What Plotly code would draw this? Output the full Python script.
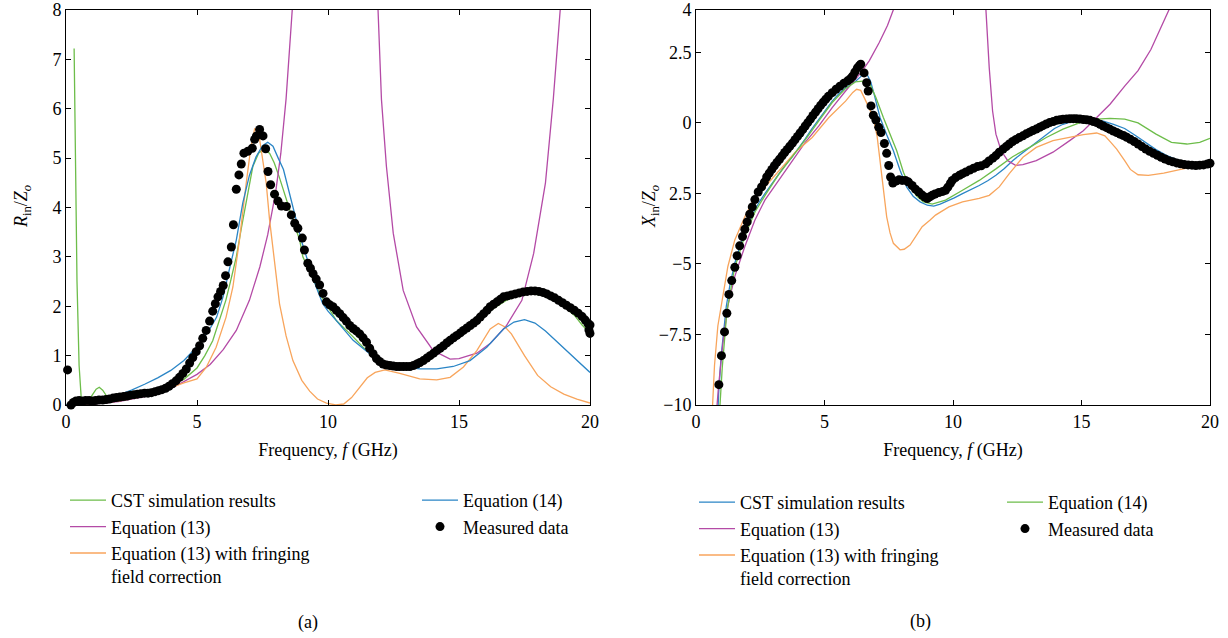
import plotly.graph_objects as go

# ---------------- Panel (a): R_in / Z_o ----------------
a_cst_f = [0.31, 0.36, 0.42, 0.5, 0.58, 0.7, 0.85, 1.0, 1.15, 1.27, 1.4, 1.55, 1.7, 2.0, 2.5, 3.0, 3.5, 4.0,
           4.5, 5.0, 5.3, 5.6, 5.85, 6.1, 6.3, 6.5, 6.7, 6.88, 7.13, 7.35, 7.52, 7.77, 7.95, 8.15, 8.35, 8.54,
           8.75, 8.92, 9.04, 9.68, 10.32, 10.96, 11.34, 11.85, 12.3, 12.8, 13.3, 13.8, 14.3, 14.8, 15.3, 15.8,
           16.3, 16.8, 17.3, 17.8, 18.2, 18.6, 19.0, 19.4, 19.7, 20.0]
a_cst_r = [7.22, 5.0, 2.5, 0.8, 0.15, 0.05, 0.08, 0.2, 0.32, 0.36, 0.3, 0.18, 0.14, 0.15, 0.2, 0.25, 0.32, 0.42,
           0.52, 0.75, 1.0, 1.3, 1.7, 2.12, 2.55, 3.0, 3.6, 4.09, 4.83, 5.1, 5.17, 5.1, 4.9, 4.6, 4.25, 3.95,
           3.6, 3.34, 3.0, 2.26, 1.71, 1.38, 1.17, 0.93, 0.83, 0.78, 0.8, 0.9, 1.1, 1.3, 1.52, 1.72,
           1.95, 2.12, 2.22, 2.25, 2.22, 2.12, 2.0, 1.82, 1.62, 1.45]

a_eq13_f = [0.0, 1.0, 2.0, 3.0, 4.0, 4.8, 5.0, 5.5, 6.0, 6.5, 7.0, 7.4, 7.7, 8.0, 8.2, 8.4, 8.55, 8.7,
            None, 11.85, 11.91, 12.04, 12.23, 12.49, 12.87, 13.38, 14.02, 14.66, 15.0, 15.68, 16.2, 16.8,
            17.4, 17.85, 18.3, 18.6, 18.87, 18.95]
a_eq13_r = [0.0, 0.02, 0.07, 0.17, 0.33, 0.57, 0.62, 0.82, 1.12, 1.51, 2.12, 2.8, 3.45, 4.3, 5.1, 6.2, 7.2, 8.5,
            None, 8.6, 8.0, 6.19, 4.83, 3.48, 2.32, 1.58, 1.1, 0.93, 0.94, 1.05, 1.25, 1.6,
            2.12, 3.07, 4.5, 6.2, 8.0, 8.6]

a_fr_f = [0.0, 1.0, 2.0, 3.0, 4.0, 4.5, 5.0, 5.35, 5.73, 6.11, 6.37, 6.62, 6.88, 7.05, 7.2, 7.3, 7.39, 7.52,
          7.64, 7.77, 7.9, 8.15, 8.4, 8.66, 9.0, 9.3, 9.6, 9.94, 10.3, 10.6, 10.9, 11.2, 11.5, 11.8, 12.17,
          12.74, 13.5, 14.15, 14.66, 15.17, 15.68, 16.19, 16.5, 16.76, 17.0, 17.5, 18.0, 18.5, 19.0, 19.5, 20.0]
a_fr_r = [0.0, 0.03, 0.08, 0.18, 0.35, 0.45, 0.53, 0.76, 1.17, 1.78, 2.39, 3.34, 4.5, 5.2, 5.59, 5.55, 5.38, 4.95,
          4.5, 3.75, 3.14, 2.05, 1.4, 0.9, 0.5, 0.28, 0.12, 0.04, 0.0, 0.02, 0.15, 0.36, 0.55, 0.66, 0.71,
          0.64, 0.53, 0.51, 0.56, 0.77, 1.1, 1.54, 1.65, 1.58, 1.44, 1.0, 0.6, 0.37, 0.22, 0.12, 0.04]

a_eq14_f = [0.0, 0.5, 1.0, 1.5, 2.0, 2.5, 3.0, 3.5, 4.0, 4.5, 5.0, 5.5, 5.75, 6.0, 6.25, 6.5, 6.75, 7.0, 7.25,
            7.5, 7.7, 7.9, 8.1, 8.3, 8.5, 8.7, 9.0, 9.3, 9.55, 9.8, 10.0, 10.32, 10.96, 11.59, 12.23, 12.87,
            13.5, 14.15, 14.78, 15.42, 16.06, 16.7, 17.1, 17.5, 17.9, 18.3, 18.7, 19.1, 19.5, 20.0]
a_eq14_r = [0.0, 0.02, 0.06, 0.12, 0.2, 0.3, 0.42, 0.55, 0.7, 0.9, 1.18, 1.55, 1.78, 2.2, 2.78, 3.34, 4.1, 4.65, 5.02,
            5.25, 5.32, 5.24, 5.0, 4.77, 4.35, 3.95, 3.3, 2.8, 2.39, 2.05, 1.9, 1.71, 1.31, 1.04, 0.83, 0.77,
            0.73, 0.73, 0.78, 0.9, 1.17, 1.54, 1.68, 1.73, 1.66, 1.5, 1.3, 1.1, 0.9, 0.66]

a_meas_f = [0.06, 0.19, 0.28, 0.38, 0.5, 0.62, 0.75, 0.88, 1.0, 1.13, 1.26, 1.4, 1.53, 1.66, 1.8, 1.93, 2.06,
            2.2, 2.33, 2.46, 2.6, 2.73, 2.86, 3.0, 3.13, 3.26, 3.4, 3.53, 3.66, 3.8, 3.93, 4.06, 4.2, 4.33,
            4.46, 4.59, 4.72, 4.84, 4.97, 5.1, 5.22, 5.35, 5.48, 5.6, 5.7, 5.8, 5.9, 6.0, 6.09, 6.18, 6.31,
            6.39, 6.5, 6.6, 6.69, 6.79, 6.94, 7.11, 7.2, 7.27, 7.39, 7.52, 7.62, 7.71, 7.81, 7.96, 8.09,
            8.22, 8.41, 8.6, 8.73, 8.85, 9.02, 9.1, 9.23, 9.33, 9.43, 9.55, 9.68, 9.81, 9.94, 10.06, 10.19,
            10.32, 10.45, 10.58, 10.7, 10.83, 10.96, 11.08, 11.21, 11.34, 11.47, 11.59, 11.72, 11.85, 11.97,
            12.1, 12.23, 12.36, 12.49, 12.62, 12.74, 12.87, 13.0, 13.13, 13.26, 13.39, 13.51, 13.64, 13.77,
            13.9, 14.03, 14.15, 14.28, 14.41, 14.54, 14.66, 14.79, 14.92, 15.05, 15.17, 15.3, 15.43, 15.56,
            15.68, 15.81, 15.94, 16.07, 16.19, 16.32, 16.45, 16.58, 16.7, 16.85, 17.0, 17.15, 17.3, 17.45,
            17.6, 17.75, 17.9, 18.05, 18.2, 18.35, 18.5, 18.65, 18.8, 18.95, 19.1, 19.25, 19.4, 19.55, 19.7,
            19.82, 19.92, 20.0, 19.96, 20.0]
a_meas_r = [0.71, 0.0, 0.05, 0.08, 0.09, 0.08, 0.09, 0.09, 0.08, 0.09, 0.1, 0.1, 0.11, 0.12, 0.14, 0.15, 0.16,
            0.17, 0.18, 0.2, 0.21, 0.22, 0.23, 0.24, 0.24, 0.25, 0.27, 0.29, 0.31, 0.34, 0.38, 0.43, 0.49, 0.56,
            0.64, 0.73, 0.85, 0.96, 1.08, 1.2, 1.35, 1.51, 1.7, 1.9, 2.05, 2.19, 2.3, 2.42, 2.62, 2.9, 3.2,
            3.65, 4.37, 4.66, 4.88, 5.1, 5.14, 5.2, 5.38, 5.45, 5.58, 5.45, 5.19, 4.73, 4.46, 4.27, 4.13,
            4.03, 4.02, 3.85, 3.68, 3.58, 3.38, 3.14, 2.87, 2.77, 2.66, 2.55, 2.43, 2.26, 2.09, 2.03, 1.99,
            1.92, 1.85, 1.77, 1.7, 1.61, 1.55, 1.5, 1.44, 1.36, 1.27, 1.15, 1.04, 0.94, 0.88,
            0.83, 0.81, 0.8, 0.79, 0.78, 0.78, 0.78, 0.78, 0.78, 0.8, 0.83, 0.86, 0.9, 0.95,
            1.0, 1.05, 1.1, 1.15, 1.2, 1.26, 1.31, 1.36, 1.41, 1.46, 1.51, 1.56, 1.61, 1.66,
            1.71, 1.78, 1.85, 1.92, 1.99, 2.04, 2.09, 2.14, 2.19, 2.21, 2.23, 2.25, 2.27, 2.29,
            2.3, 2.31, 2.31, 2.3, 2.28, 2.25, 2.21, 2.17, 2.12, 2.07, 2.02, 1.97, 1.92, 1.86, 1.79,
            1.72, 1.65, 1.62, 1.52, 1.45]

# ---------------- Panel (b): X_in / Z_o ----------------
b_cst_f = [0.84, 0.88, 0.98, 1.08, 1.18, 1.33, 1.51, 1.7, 1.9, 2.1, 2.29, 2.48, 2.68, 2.95, 3.21, 3.47, 3.73, 4.0,
           4.25, 4.5, 4.78, 5.05, 5.3, 5.55, 5.82, 6.02, 6.22, 6.4, 6.55, 6.64, 6.8, 6.95, 7.16, 7.42, 7.68,
           7.94, 8.2, 8.45, 8.72, 9.0, 9.25, 9.5, 9.71, 10.05, 10.37, 10.7, 11.02, 11.35, 11.67, 12.0, 12.32,
           12.65, 12.98, 13.3, 13.63, 13.95, 14.28, 14.55, 14.8, 15.05, 15.33, 15.6, 15.85, 16.25, 16.68,
           17.1, 17.5, 17.9, 18.3, 18.7, 19.1, 19.5, 19.8, 20.0]
b_cst_x = [-10.5, -9.6, -8.25, -7.3, -6.49, -5.7, -4.97, -4.4, -3.92, -3.48, -3.09, -2.78, -2.51, -2.15, -1.8, -1.5,
           -1.22, -0.9, -0.57, -0.22, 0.13, 0.47, 0.77, 1.02, 1.24, 1.36, 1.48, 1.63, 1.78, 1.75, 1.45, 0.95,
           0.19, -0.42, -0.99, -1.68, -2.28, -2.6, -2.8, -2.92, -2.95, -2.88, -2.8, -2.66, -2.51, -2.37, -2.22,
           -2.05, -1.86, -1.62, -1.34, -1.1, -0.87, -0.62, -0.4, -0.2, -0.05, 0.03, 0.07, 0.09, 0.09, 0.08,
           0.06, -0.05, -0.2, -0.45, -0.7, -0.95, -1.15, -1.3, -1.42, -1.48, -1.48, -1.47]

b_eq13_f = [0.8, 0.82, 0.88, 1.05, 1.24, 1.51, 1.9, 2.29, 2.68, 3.21, 3.73, 4.25, 4.78, 5.3, 5.82, 6.41, 6.74,
            7.13, 7.45, 7.7, 7.8, None, 11.25, 11.28, 11.41, 11.54, 11.67, 11.87, 12.13, 12.45, 12.72, 13.24,
            13.89, 14.54, 15.07, 15.59, 16.11, 16.68, 17.2, 17.7, 18.1, 18.45, 18.5]
b_eq13_x = [-10.5, -10.0, -9.3, -7.78, -6.49, -5.44, -4.38, -3.45, -2.74, -2.04, -1.34, -0.69, -0.11, 0.54, 1.13,
            1.77, 2.2, 2.85, 3.45, 4.05, 4.3, None, 4.5, 4.0, 1.95, 0.42, -0.4, -0.98, -1.34, -1.51, -1.48,
            -1.34, -1.04, -0.63, -0.28, 0.19, 0.66, 1.3, 1.85, 2.6, 3.4, 4.1, 4.3]

b_fr_f = [0.62, 0.66, 0.72, 0.85, 1.05, 1.24, 1.51, 1.9, 2.23, 2.68, 3.21, 3.86, 4.52, 5.17, 5.82, 6.1, 6.25,
          6.41, 6.61, 6.9, 7.05, 7.16, 7.3, 7.42, 7.55, 7.68, 7.94, 8.1, 8.33, 8.6, 8.8, 9.1, 9.32, 9.84,
          10.37, 11.02, 11.41, 11.8, 12.19, 12.72, 13.24, 13.89, 14.54, 15.07, 15.59, 15.91, 16.15, 16.37,
          16.68, 16.9, 17.2, 17.6, 18.2, 18.8, 19.4, 20.0]
b_fr_x = [-10.5, -9.9, -8.6, -7.2, -6.03, -5.09, -4.15, -3.33, -2.74, -2.27, -1.69, -1.04, -0.52, 0.19, 0.77,
          1.08, 1.19, 1.15, 0.77, 0.19, -0.5, -1.34, -2.4, -3.33, -3.9, -4.27, -4.5, -4.48, -4.33, -3.95,
          -3.68, -3.45, -3.27, -2.98, -2.8, -2.68, -2.57, -2.27, -1.8, -1.22, -0.87, -0.63, -0.52, -0.42,
          -0.36, -0.46, -0.7, -0.93, -1.34, -1.65, -1.84, -1.86, -1.78, -1.66, -1.54, -1.45]

b_eq14_f = [0.9, 0.95, 1.02, 1.2, 1.5, 1.9, 2.3, 2.7, 3.2, 3.7, 4.25, 4.8, 5.3, 5.8, 6.2, 6.5, 6.64, 6.8, 7.0,
            7.29, 7.55, 7.81, 8.07, 8.33, 8.6, 8.85, 9.19, 9.71, 10.37, 11.02, 11.67, 12.32, 12.98, 13.63,
            14.28, 15.07, 15.59, 16.11, 16.68, 17.2, 17.9, 18.5, 19.1, 19.6, 20.0]
b_eq14_x = [-10.5, -9.7, -8.7, -6.7, -5.15, -4.0, -3.15, -2.55, -1.85, -1.25, -0.6, 0.1, 0.72, 1.2, 1.45, 1.48,
            1.48, 1.3, 0.9, 0.19, -0.4, -0.99, -1.75, -2.28, -2.6, -2.8, -2.88, -2.74, -2.39, -2.04, -1.63,
            -1.2, -0.87, -0.52, -0.22, 0.05, 0.13, 0.16, 0.13, 0.0, -0.4, -0.69, -0.75, -0.69, -0.55]

b_meas_f = [0.89, 0.99, 1.11, 1.2, 1.28, 1.39, 1.51, 1.6, 1.7, 1.81, 1.9, 1.99, 2.09, 2.19, 2.29, 2.42, 2.55,
            2.66, 2.75, 2.85, 2.95, 3.05, 3.15, 3.25, 3.35, 3.45, 3.55, 3.65, 3.75, 3.85, 3.95, 4.05, 4.15,
            4.25, 4.35, 4.45, 4.55, 4.65, 4.75, 4.85, 4.95, 5.05, 5.15, 5.3, 5.45, 5.6, 5.75, 5.9, 6.0, 6.09,
            6.18, 6.28, 6.36, 6.41, 6.54, 6.64, 6.7, 6.81, 6.9, 7.0, 7.11, 7.2, 7.33, 7.42, 7.5, 7.57, 7.66,
            7.78, 7.9, 8.02, 8.15, 8.27, 8.41, 8.54, 8.67, 8.8, 8.9, 9.0, 9.1, 9.19, 9.3, 9.45, 9.6, 9.71,
            9.8, 9.9, 9.97, 10.1, 10.25, 10.37, 10.5, 10.65, 10.8, 10.95, 11.1, 11.28, 11.4, 11.55, 11.67,
            11.8, 11.95, 12.07, 12.19, 12.32, 12.45, 12.58, 12.72, 12.85, 12.98, 13.11, 13.24, 13.37, 13.5,
            13.63, 13.76, 13.9, 14.03, 14.16, 14.28, 14.42, 14.55, 14.68, 14.8, 14.94, 15.07, 15.2, 15.33,
            15.46, 15.59, 15.72, 15.85, 15.98, 16.11, 16.24, 16.37, 16.5, 16.63, 16.76, 16.9, 17.05, 17.2,
            17.35, 17.5, 17.65, 17.8, 17.95, 18.1, 18.25, 18.4, 18.55, 18.7, 18.85, 19.0, 19.15, 19.3,
            19.45, 19.6, 19.75, 19.9, 20.0]
b_meas_x = [-9.28, -8.25, -7.41, -6.75, -6.08, -5.59, -5.12, -4.71, -4.36, -4.03, -3.77, -3.51, -3.24, -2.98,
            -2.72, -2.45, -2.27, -2.1, -1.92, -1.78, -1.65, -1.52, -1.4, -1.29, -1.17, -1.05, -0.94, -0.83,
            -0.72, -0.6, -0.48, -0.36, -0.24, -0.11, 0.01, 0.13, 0.26, 0.38, 0.5, 0.62, 0.73, 0.84, 0.94,
            1.07, 1.19, 1.3, 1.4, 1.49, 1.56, 1.65, 1.8, 1.95, 2.03, 2.08, 1.77, 1.42, 1.13, 0.6, 0.27, 0.1,
            -0.16, -0.34, -0.73, -1.08, -1.51, -1.92, -2.13, -2.06, -2.02, -2.04, -2.04, -2.1, -2.22, -2.35,
            -2.45, -2.56, -2.63, -2.68, -2.62, -2.57, -2.52, -2.47, -2.43, -2.39, -2.28, -2.14, -2.04, -1.94,
            -1.86, -1.8, -1.74, -1.67, -1.61, -1.55, -1.52, -1.45, -1.35, -1.25, -1.16, -1.04, -0.93, -0.84,
            -0.75, -0.66, -0.59, -0.52, -0.46, -0.39, -0.33, -0.27, -0.22, -0.16, -0.1, -0.04, 0.01, 0.05,
            0.09, 0.11, 0.13, 0.14, 0.15, 0.15, 0.15, 0.14, 0.12, 0.11, 0.09, 0.05, 0.01, -0.05, -0.11,
            -0.17, -0.23, -0.29, -0.34, -0.4, -0.45, -0.51, -0.58, -0.66, -0.75, -0.84, -0.93, -1.01, -1.08,
            -1.15, -1.22, -1.28, -1.34, -1.38, -1.42, -1.45, -1.48, -1.49, -1.5, -1.51, -1.5, -1.49, -1.46,
            -1.43]

x_ticks = [0, 5, 10, 15, 20]
a_y_ticks = [0, 1, 2, 3, 4, 5, 6, 7, 8]
b_y_ticks = [-10, -7.5, -5, -2.5, 0, 2.5, 4]
b_y_ticktext = ["\u221210", "\u22127.5", "\u22125", "2.5", "0", "2.5", "4"]

GREEN = "#6dbd4a"
MAGENTA = "#b44aa6"
ORANGE = "#f8a55c"
BLUE = "#2a85c6"
FONT = "Liberation Serif, Times New Roman, serif"

fig = go.Figure()

def line(xs, ys, color, name, xa, ya, legend):
    fig.add_trace(go.Scatter(x=xs, y=ys, mode="lines", line=dict(color=color, width=1.3),
                             name=name, xaxis=xa, yaxis=ya, legend=legend, connectgaps=False))

def dots(xs, ys, name, xa, ya, legend):
    fig.add_trace(go.Scatter(x=xs, y=ys, mode="markers", marker=dict(color="black", size=9),
                             name=name, xaxis=xa, yaxis=ya, legend=legend, cliponaxis=False))

fr_name = "Equation (13) with fringing<br>field correction"
# panel (a)
line(a_cst_f, a_cst_r, GREEN, "CST simulation results", "x", "y", "legend")
line(a_eq13_f, a_eq13_r, MAGENTA, "Equation (13)", "x", "y", "legend")
line(a_fr_f, a_fr_r, ORANGE, fr_name, "x", "y", "legend")
line(a_eq14_f, a_eq14_r, BLUE, "Equation (14)", "x", "y", "legend2")
dots(a_meas_f, a_meas_r, "Measured data", "x", "y", "legend2")
# panel (b)
line(b_cst_f, b_cst_x, BLUE, "CST simulation results", "x2", "y2", "legend3")
line(b_eq13_f, b_eq13_x, MAGENTA, "Equation (13)", "x2", "y2", "legend3")
line(b_fr_f, b_fr_x, ORANGE, fr_name, "x2", "y2", "legend3")
line(b_eq14_f, b_eq14_x, GREEN, "Equation (14)", "x2", "y2", "legend4")
dots(b_meas_f, b_meas_x, "Measured data", "x2", "y2", "legend4")

W, H = 1228, 638
def px(v):
    return v / W
def py(v):
    return 1 - v / H

axis_common = dict(showline=True, linecolor="black", linewidth=1, mirror="ticks", ticks="inside",
                   ticklen=5, tickcolor="black", showgrid=False, zeroline=False, automargin=False,
                   tickfont=dict(family=FONT, size=18, color="black"))

legend_common = dict(font=dict(family=FONT, size=18, color="black"), bgcolor="rgba(0,0,0,0)",
                     xanchor="left", yanchor="top", valign="top", tracegroupgap=0, itemwidth=36)

txt = dict(xref="paper", yref="paper", showarrow=False, xanchor="center", yanchor="middle",
           font=dict(family=FONT, size=18, color="black"))

fig.update_layout(
    width=W, height=H, margin=dict(l=0, r=0, t=0, b=0, autoexpand=False),
    plot_bgcolor="white", paper_bgcolor="white",
    font=dict(family=FONT, size=18, color="black"),
    xaxis=dict(domain=[px(66), px(590)], range=[0, 20], tickvals=x_ticks, anchor="y",
               title=dict(text="Frequency, <i>f</i> (GHz)", font=dict(family=FONT, size=18), standoff=12),
               **axis_common),
    yaxis=dict(domain=[py(405), py(10)], range=[0, 8], tickvals=a_y_ticks, anchor="x", **axis_common),
    xaxis2=dict(domain=[px(696), px(1210)], range=[0, 20], tickvals=x_ticks, anchor="y2",
                title=dict(text="Frequency, <i>f</i> (GHz)", font=dict(family=FONT, size=18), standoff=12),
                **axis_common),
    yaxis2=dict(domain=[py(405), py(10)], range=[-10, 4], tickvals=b_y_ticks, ticktext=b_y_ticktext,
                anchor="x2", **axis_common),
    legend=dict(x=px(65), y=py(482), **legend_common),
    legend2=dict(x=px(417), y=py(482), **legend_common),
    legend3=dict(x=px(694), y=py(484), **legend_common),
    legend4=dict(x=px(1002), y=py(484), **legend_common),
    annotations=[
        dict(text="<i>R</i><sub>in</sub>/<i>Z<sub>o</sub></i>", x=px(23), y=py(207), textangle=-90, **txt),
        dict(text="<i>X</i><sub>in</sub>/<i>Z<sub>o</sub></i>", x=px(651), y=py(207), textangle=-90, **txt),
        dict(text="(a)", x=px(308), y=py(622), **txt),
        dict(text="(b)", x=px(920), y=py(621), **txt),
    ],
)

# remove the default 8px page margin so the figure fills the window exactly
fig.write_html("out.html", config={"displayModeBar": False},
               post_script="document.body.style.margin='0px';")
